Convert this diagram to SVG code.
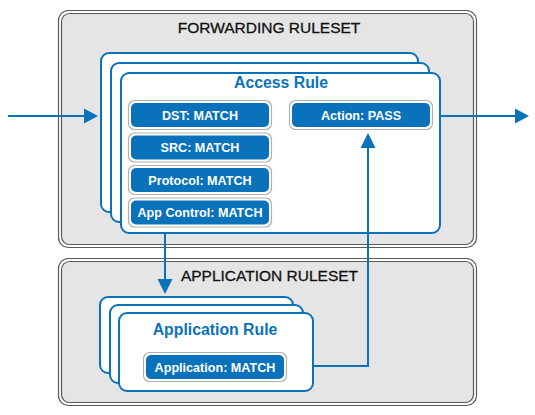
<svg xmlns="http://www.w3.org/2000/svg" width="535" height="415" viewBox="0 0 535 415">
<style>
.cont-o{fill:#ffffff;stroke:#5a5a5a;stroke-width:1.2}
.cont-i{fill:#e5e5e5;stroke:#5a5a5a;stroke-width:1.2}
.ttl{font-family:"Liberation Sans",Arial,sans-serif;font-size:15.5px;fill:#111;stroke:#111;stroke-width:0.3;text-anchor:middle}
.card{fill:#ffffff;stroke:#0a72ba;stroke-width:2}
.cardt{font-family:"Liberation Sans",Arial,sans-serif;font-size:15.8px;font-weight:bold;fill:#0a72ba;text-anchor:middle}
.btn-o{fill:#ffffff;stroke:#b0b0b0;stroke-width:1.2}
.btn-i{fill:#0a72ba}
.btnt{font-family:"Liberation Sans",Arial,sans-serif;font-size:12.6px;font-weight:bold;fill:#ffffff;text-anchor:middle}
.ln{fill:none;stroke:#0a72ba;stroke-width:2}
.ah{fill:#0a72ba}
</style>
<g id="forwarding-ruleset">
<rect class="cont-o" x="58.5" y="10.5" width="418" height="237" rx="10"/>
<rect class="cont-i" x="61.5" y="13.5" width="412" height="231" rx="8"/>
<text class="ttl" x="269" y="33">FORWARDING RULESET</text>
</g>
<g id="application-ruleset">
<rect class="cont-o" x="58.5" y="258.5" width="418" height="147" rx="10"/>
<rect class="cont-i" x="61.5" y="261.5" width="412" height="141" rx="8"/>
<text class="ttl" x="269.5" y="281">APPLICATION RULESET</text>
</g>
<g id="access-rule">
<rect class="card" x="101" y="53" width="317" height="159" rx="8"/>
<rect class="card" x="111" y="63" width="318" height="159" rx="8"/>
<rect class="card" x="121" y="73" width="319" height="160" rx="8"/>
<text class="cardt" x="281" y="88">Access Rule</text>
</g>
<g id="dst-match">
<rect class="btn-o" x="128.5" y="100.5" width="143" height="29" rx="6"/>
<rect class="btn-i" x="131" y="103" width="138" height="24" rx="5"/>
<text class="btnt" x="200" y="119.5">DST: MATCH</text>
</g>
<g id="src-match">
<rect class="btn-o" x="128.5" y="133" width="143" height="29" rx="6"/>
<rect class="btn-i" x="131" y="135.5" width="138" height="24" rx="5"/>
<text class="btnt" x="200" y="152">SRC: MATCH</text>
</g>
<g id="protocol-match">
<rect class="btn-o" x="128.5" y="165.5" width="143" height="29" rx="6"/>
<rect class="btn-i" x="131" y="168" width="138" height="24" rx="5"/>
<text class="btnt" x="200" y="184.5">Protocol: MATCH</text>
</g>
<g id="app-control-match">
<rect class="btn-o" x="128.5" y="198" width="143" height="29" rx="6"/>
<rect class="btn-i" x="131" y="200.5" width="138" height="24" rx="5"/>
<text class="btnt" x="200" y="217">App Control: MATCH</text>
</g>
<g id="action-pass">
<rect class="btn-o" x="289.5" y="100.5" width="143" height="29" rx="6"/>
<rect class="btn-i" x="292" y="103" width="138" height="24" rx="5"/>
<text class="btnt" x="361" y="119.5">Action: PASS</text>
</g>
<g id="application-rule">
<rect class="card" x="100" y="297" width="193" height="76" rx="8"/>
<rect class="card" x="110" y="305" width="193" height="78" rx="8"/>
<rect class="card" x="119" y="313" width="194" height="78" rx="8"/>
<text class="cardt" x="215" y="335">Application Rule</text>
</g>
<g id="application-match">
<rect class="btn-o" x="143.5" y="352.5" width="143" height="29" rx="6"/>
<rect class="btn-i" x="146" y="355" width="138" height="24" rx="5"/>
<text class="btnt" x="215" y="371.5">Application: MATCH</text>
</g>
<g id="connectors">
<line class="ln" x1="8" y1="116" x2="86" y2="116"/>
<polygon class="ah" points="84,108.5 98,116 84,123.5"/>
<line class="ln" x1="441" y1="116" x2="517" y2="116"/>
<polygon class="ah" points="515,108.5 529,116 515,123.5"/>
<line class="ln" x1="165" y1="234" x2="165" y2="281"/>
<polygon class="ah" points="157.5,279 172.5,279 165,294"/>
<polyline class="ln" points="313,366 368,366 368,146"/>
<polygon class="ah" points="360.5,148 375.5,148 368,133"/>
</g>
</svg>
